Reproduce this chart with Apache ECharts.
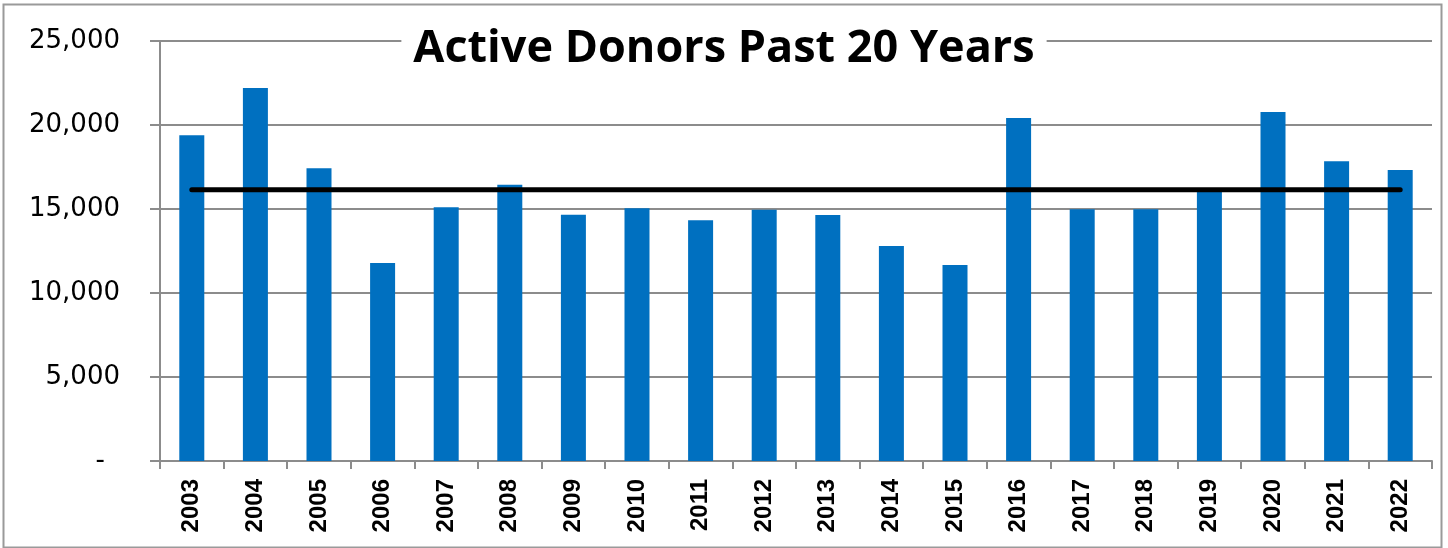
<!DOCTYPE html>
<html>
<head>
<meta charset="utf-8">
<script src="https://cdn.jsdelivr.net/npm/echarts@6/dist/echarts.min.js"></script>
<style>
  html, body { margin: 0; padding: 0; background: #fff; }
  #chart { width: 1448px; height: 548px; }
</style>
</head>
<body>
<div id="chart"></div>
<script>
// years on the x axis
const years = ['2003', '2004', '2005', '2006', '2007', '2008', '2009', '2010', '2011', '2012',
  '2013', '2014', '2015', '2016', '2017', '2018', '2019', '2020', '2021', '2022']
// active donors per year
const donors = [19390, 22200, 17420, 11790, 15100, 16450, 14660, 15040, 14330, 14960,
  14640, 12800, 11670, 20420, 14980, 14980, 16050, 20770, 17840, 17320]
// the flat black reference line
const avgLine = [16150, 16150, 16150, 16150, 16150, 16150, 16150, 16150, 16150, 16150,
  16150, 16150, 16150, 16150, 16150, 16150, 16150, 16150, 16150, 16150]

const gray = '#8c8c8c'
const chart = echarts.init(document.getElementById('chart'))

const option = {
  animation: false,
  backgroundColor: '#fff',
  title: {
    text: 'Active Donors Past 20 Years',
    left: 'center',
    top: 25,
    padding: [2, 12],
    backgroundColor: '#fff',
    textStyle: {
      fontFamily: 'Open Sans',
      fontWeight: 'bold',
      fontSize: 45,
      color: '#000'
    }
  },
  graphic: [
    {
      type: 'rect',
      shape: { x: 3.5, y: 4.5, width: 1438, height: 543 },
      style: { fill: 'none', stroke: '#9a9a9a', lineWidth: 2 },
      silent: true
    }
  ],
  grid: {
    left: 160,
    right: 16,
    top: 41,
    bottom: 87
  },
  xAxis: {
    type: 'category',
    data: years,
    axisLine: { show: true, lineStyle: { color: gray, width: 2 } },
    axisTick: { show: true, length: 8, lineStyle: { color: gray, width: 2 } },
    axisLabel: {
      rotate: 90,
      interval: 0,
      margin: 18,
      color: '#000',
      fontFamily: 'Liberation Sans',
      fontWeight: 'bold',
      fontSize: 24
    }
  },
  yAxis: {
    type: 'value',
    min: 0,
    max: 25000,
    interval: 5000,
    axisLine: { show: true, lineStyle: { color: gray, width: 2 } },
    axisTick: { show: true, length: 10, lineStyle: { color: gray, width: 2 } },
    splitLine: { show: true, lineStyle: { color: gray, width: 2 } },
    axisLabel: {
      margin: 40,
      color: '#000',
      fontFamily: 'DejaVu Sans',
      fontSize: 26,
      formatter (v) {
        return v === 0 ? '{z|-}' : v.toLocaleString('en-US')
      },
      rich: {
        z: { fontFamily: 'DejaVu Sans', fontSize: 26, color: '#000', padding: [0, 15, 0, 0] }
      }
    }
  },
  series: [
    {
      name: 'Active Donors',
      type: 'bar',
      data: donors,
      barWidth: 25,
      itemStyle: { color: '#0070C0' },
      z: 2
    },
    {
      name: 'Average',
      type: 'line',
      data: avgLine,
      symbol: 'none',
      lineStyle: { color: '#000', width: 5, cap: 'round' },
      z: 3
    }
  ]
}

chart.setOption(option)
</script>
</body>
</html>
